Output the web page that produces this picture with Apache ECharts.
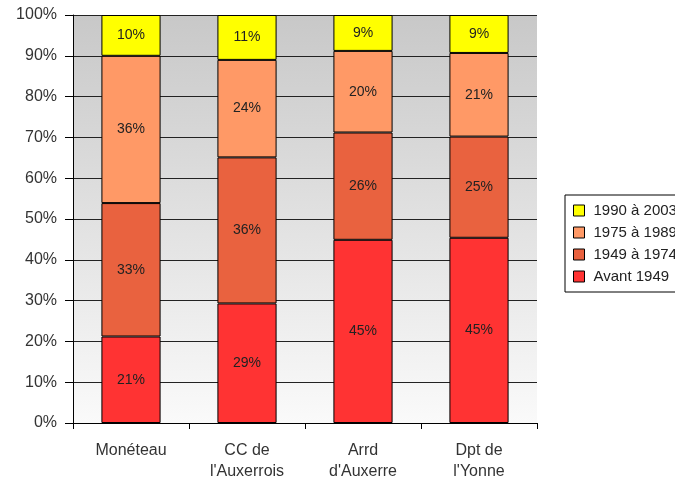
<!DOCTYPE html>
<html>
<head>
<meta charset="utf-8">
<script src="https://cdn.jsdelivr.net/npm/echarts@6/dist/echarts.min.js"></script>
<style>
  html, body { margin: 0; padding: 0; background: #fff; }
  #chart { width: 675px; height: 482px; }
</style>
</head>
<body>
<div id="chart"></div>
<script>
    // categories and values (percent of dwellings by construction period)
    var categories = ['Monéteau', "CC de\nl'Auxerrois", "Arrd\nd'Auxerre", "Dpt de\nl'Yonne"];
    var avant1949 = [21.2, 29.3, 44.9, 45.4];
    var p1949_1974 = [32.7, 35.8, 26.3, 24.8];
    var p1975_1989 = [36.1, 23.9, 20.0, 20.5];
    var p1990_2003 = [10.0, 11.0, 8.8, 9.3];
    var yTicks = [0, 10, 20, 30, 40, 50, 60, 70, 80, 90, 100];

    var font = 'Liberation Sans, Arial, sans-serif';

    function mkSeries(name, data, color) {
        return {
            name: name,
            type: 'bar',
            stack: 'total',
            barWidth: '51%',
            data: data,
            itemStyle: {
                color: color,
                borderColor: '#000',
                borderWidth: 1
            },
            label: {
                show: true,
                position: 'inside',
                color: '#222',
                fontFamily: font,
                fontSize: 14,
                formatter: function (p) { return Math.round(p.value) + '%'; }
            }
        };
    }

    var myChart = echarts.init(document.getElementById('chart'));
    var option = {
        animation: false,
        backgroundColor: '#fff',
        grid: {
            left: 73,
            right: 138,
            top: 15,
            bottom: 57,
            show: true,
            borderWidth: 0,
            backgroundColor: new echarts.graphic.LinearGradient(0, 0, 0, 1, [
                { offset: 0, color: '#c8c8c8' },
                { offset: 1, color: '#fafafa' }
            ])
        },
        legend: {
            data: ['1990 à 2003', '1975 à 1989', '1949 à 1974', 'Avant 1949'],
            orient: 'vertical',
            left: 565,
            top: 195,
            padding: [8, 14, 8, 8],
            itemGap: 7,
            itemWidth: 11,
            itemHeight: 11,
            borderColor: '#000',
            borderWidth: 1,
            icon: 'rect',
            itemStyle: { borderColor: '#000', borderWidth: 1 },
            textStyle: { color: '#222', fontFamily: font, fontSize: 15, padding: [0, 0, 0, 4] }
        },
        xAxis: {
            type: 'category',
            data: categories,
            axisLine: { lineStyle: { color: '#000', width: 1 } },
            axisTick: { show: true, length: 6, lineStyle: { color: '#000' } },
            axisLabel: {
                color: '#333',
                fontFamily: font,
                fontSize: 16,
                lineHeight: 21,
                margin: 17
            }
        },
        yAxis: {
            type: 'value',
            min: 0,
            max: 100,
            interval: 10,
            axisLine: { show: true, lineStyle: { color: '#000', width: 1 } },
            axisTick: { show: true, length: 8, lineStyle: { color: '#000' } },
            axisLabel: {
                color: '#333',
                fontFamily: font,
                fontSize: 16,
                margin: 16,
                formatter: function (v) { return yTicks.indexOf(v) >= 0 ? v + '%' : ''; }
            },
            splitLine: { show: true, lineStyle: { color: '#222', width: 1 } }
        },
        series: [
            mkSeries('Avant 1949', avant1949, '#ff3333'),
            mkSeries('1949 à 1974', p1949_1974, '#e9623f'),
            mkSeries('1975 à 1989', p1975_1989, '#ff9966'),
            mkSeries('1990 à 2003', p1990_2003, '#ffff00')
        ]
    };
    myChart.setOption(option);
</script>
</body>
</html>
